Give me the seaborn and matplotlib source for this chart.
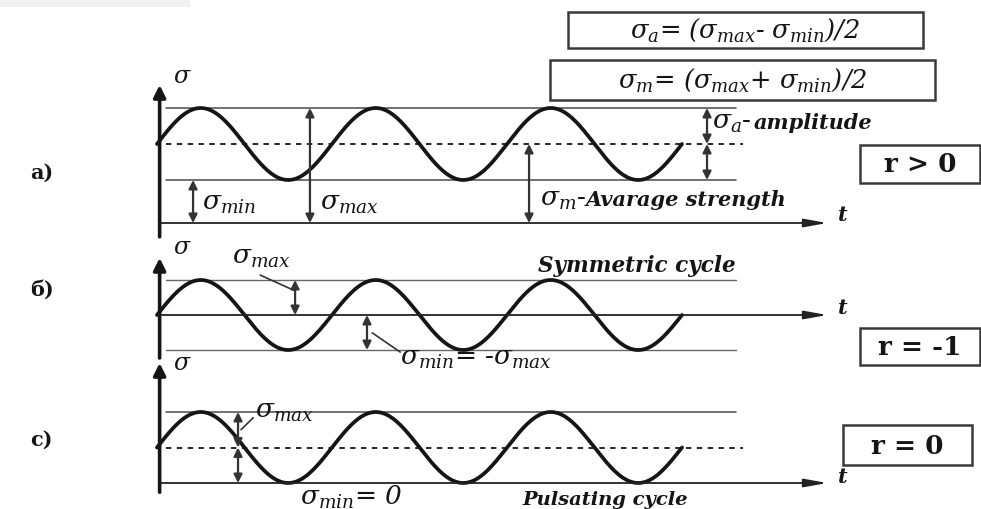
import numpy as np
import pandas as pd
import matplotlib
matplotlib.use('Agg')
import matplotlib.pyplot as plt
from matplotlib.patches import Rectangle
import seaborn as sns

# --- datos de los tres ciclos (unidades arbitrarias de tension) ---
panel_labels = ['a)', 'б)', 'c)']
sigma_max = [1.0, 1.0, 1.0]
sigma_min = [0.374, -1.0, 0.0]
n_cycles = 3
ratio_labels = ['r > 0', 'r = -1', 'r = 0']
cycle_titles = ['', 'Symmetric cycle', 'Pulsating cycle']
formula_labels = [r'$\sigma_a$= ($\sigma_{max}$- $\sigma_{min}$)/2',
                  r'$\sigma_m$= ($\sigma_{max}$+ $\sigma_{min}$)/2']

# --- disposicion en pixeles ---
W, H = 981, 509
X0, PX_CYCLE = 157, 175            # origen del tiempo y pixeles por periodo
zero_px = [223, 315, 483]          # fila donde sigma = 0
px_unit = [115, 35, 71]            # pixeles por unidad de sigma
rows = [(50, 262), (238, 376), (352, 509)]
T_LIM = (-0.3, 4.3)
axis_span = [(-0.12, 1.2), (-1.23, 1.63), (-0.13, 1.69)]
sigma_label_pos = [1.27, 1.93, 1.68]   # altura de la etiqueta sigma del eje
t_label_pos = [0.07, 0.2, 0.08]        # altura de la etiqueta t

INK = '#151515'
GREY = '#4a4a4a'

sns.set_theme(style='white')
plt.rcParams['font.family'] = ['DejaVu Serif']
plt.rcParams['mathtext.fontset'] = 'dejavuserif'

fig = plt.figure(figsize=(W / 100, H / 100), dpi=100)
fig.patch.set_facecolor('white')


def make_panel(i):
    top, bot = rows[i]
    lo = (zero_px[i] - bot) / px_unit[i]
    hi = (zero_px[i] - top) / px_unit[i]
    left = (X0 + T_LIM[0] * PX_CYCLE) / W
    width = (T_LIM[1] - T_LIM[0]) * PX_CYCLE / W
    ax = fig.add_axes([left, 1 - bot / H, width, (bot - top) / H])
    ax.set_xlim(*T_LIM)
    ax.set_ylim(lo, hi)
    ax.set_axis_off()
    ax.patch.set_alpha(0)
    return ax


def draw_wave(ax, i):
    t = np.linspace(0, n_cycles, 600)
    mean = (sigma_max[i] + sigma_min[i]) / 2
    amp = (sigma_max[i] - sigma_min[i]) / 2
    df = pd.DataFrame({'t': t, 'sigma': mean + amp * np.sin(2 * np.pi * t)})
    sns.lineplot(data=df, x='t', y='sigma', ax=ax, color=INK, lw=2.7, sort=False)


def darrow(ax, t, s1, s2):
    ax.annotate('', xy=(t, s2), xytext=(t, s1),
                arrowprops=dict(arrowstyle='<|-|>,head_length=0.5,head_width=0.25',
                                color='#333333', lw=1.6, mutation_scale=10,
                                shrinkA=0, shrinkB=0))


def frame(ax, i):
    lo, hi = axis_span[i]
    ax.annotate('', xy=(0.015, hi), xytext=(0.015, lo),
                arrowprops=dict(arrowstyle='-|>,head_length=0.6,head_width=0.3',
                                color=INK, lw=2.6, mutation_scale=12,
                                shrinkA=0, shrinkB=0))
    ax.annotate('', xy=(3.83, 0), xytext=(0.015, 0),
                arrowprops=dict(arrowstyle='-|>,head_length=1.0,head_width=0.18',
                                color='#222222', lw=1.3, mutation_scale=14,
                                shrinkA=0, shrinkB=0))
    ax.text(0.09, sigma_label_pos[i], r'$\sigma$', fontsize=17,
            ha='left', va='center', color=INK)
    ax.text(3.89, t_label_pos[i], 't', fontsize=15, fontweight='bold',
            fontstyle='italic', ha='left', va='center', color=INK)


axes = [make_panel(i) for i in range(3)]

# ---- a) r > 0 ----
ax = axes[0]
smean = (sigma_max[0] + sigma_min[0]) / 2
ax.plot([0.05, 3.31], [sigma_max[0]] * 2, color=GREY, lw=1.1)
ax.plot([0.05, 3.31], [sigma_min[0]] * 2, color=GREY, lw=1.1)
ax.plot([0.05, 3.35], [smean] * 2, color=INK, lw=1.3, ls=(0, (3, 3)))
draw_wave(ax, 0)
frame(ax, 0)
darrow(ax, 0.206, 0, sigma_min[0])
darrow(ax, 0.874, 0, sigma_max[0])
darrow(ax, 2.126, 0, smean)
darrow(ax, 3.143, smean, sigma_max[0])
darrow(ax, 3.143, sigma_min[0], smean)
ax.text(0.26, 0.17, r'$\sigma_{min}$', fontsize=19, va='center', color=INK)
ax.text(0.93, 0.17, r'$\sigma_{max}$', fontsize=19, va='center', color=INK)
ax.text(2.19, 0.20, r'$\sigma_m$-', fontsize=19, va='center', color=INK)
ax.text(2.45, 0.20, 'Avarage strength', fontsize=15, fontweight='bold',
        fontstyle='italic', va='center', color=INK)
ax.text(3.17, 0.87, r'$\sigma_a$-', fontsize=19, va='center', color=INK)
ax.text(3.41, 0.87, 'amplitude', fontsize=15, fontweight='bold',
        fontstyle='italic', va='center', color=INK)

# ---- б) r = -1 ----
ax = axes[1]
ax.plot([0.05, 3.31], [sigma_max[1]] * 2, color='#666666', lw=1.0)
ax.plot([0.05, 3.31], [sigma_min[1]] * 2, color='#666666', lw=1.0)
draw_wave(ax, 1)
frame(ax, 1)
darrow(ax, 0.789, 0, sigma_max[1])
darrow(ax, 1.2, sigma_min[1], 0)
ax.plot([0.59, 0.78], [1.14, 0.71], color='#333333', lw=1.2)
ax.plot([1.23, 1.39], [-0.51, -1.06], color='#333333', lw=1.2)
ax.text(0.43, 1.63, r'$\sigma_{max}$', fontsize=19, va='center', color=INK)
ax.text(1.39, -1.23, r'$\sigma_{min}$= -$\sigma_{max}$', fontsize=19,
        fontstyle='italic', va='center', color=INK)
ax.text(2.74, 1.40, cycle_titles[1], fontsize=15.5, fontweight='bold',
        fontstyle='italic', ha='center', va='center', color=INK)

# ---- c) r = 0 ----
ax = axes[2]
smean = (sigma_max[2] + sigma_min[2]) / 2
ax.plot([0.05, 3.31], [sigma_max[2]] * 2, color=GREY, lw=1.1)
ax.plot([0.05, 3.35], [smean] * 2, color=INK, lw=1.3, ls=(0, (3, 3)))
draw_wave(ax, 2)
frame(ax, 2)
darrow(ax, 0.463, smean, sigma_max[2])
darrow(ax, 0.463, sigma_min[2], smean)
ax.plot([0.55, 0.48], [0.92, 0.75], color='#333333', lw=1.2)
ax.text(0.56, 1.0, r'$\sigma_{max}$', fontsize=19, va='center', color=INK)
ax.text(0.82, -0.20, r'$\sigma_{min}$= 0', fontsize=19, fontstyle='italic',
        va='center', color=INK)
ax.text(2.09, -0.24, cycle_titles[2], fontsize=14, fontweight='bold',
        fontstyle='italic', ha='left', va='center', color=INK)

# ---- capa superior en pixeles: etiquetas, formulas y cajas de r ----
ov = fig.add_axes([0, 0, 1, 1])
ov.set_xlim(0, W)
ov.set_ylim(H, 0)
ov.set_axis_off()
ov.patch.set_alpha(0)

ov.add_patch(Rectangle((0, 0), 190, 7, facecolor='#f1f1f1', edgecolor='none'))

for label, y in zip(panel_labels, [173, 290, 440]):
    ov.text(30, y, label, fontsize=15, fontweight='bold', ha='left', va='center',
            color=INK)

for text, (x, y, w, h) in zip(formula_labels, [(568, 12, 355, 36), (550, 60, 385, 40)]):
    ov.add_patch(Rectangle((x, y), w, h, fill=False, edgecolor='#3a3a3a', lw=1.8))
    ov.text(x + w / 2, y + h / 2, text, fontsize=18.5, fontstyle='italic',
            ha='center', va='center', color=INK)

for text, (x, y, w, h) in zip(ratio_labels, [(860, 145, 120, 38), (860, 328, 120, 37),
                                             (843, 425, 129, 40)]):
    ov.add_patch(Rectangle((x, y), w, h, fill=False, edgecolor='#3a3a3a', lw=1.8))
    ov.text(x + w / 2, y + h / 2 + 1, text, fontsize=19, fontweight='bold',
            ha='center', va='center', color=INK)

fig.savefig('out.png', dpi=100, facecolor='white')
